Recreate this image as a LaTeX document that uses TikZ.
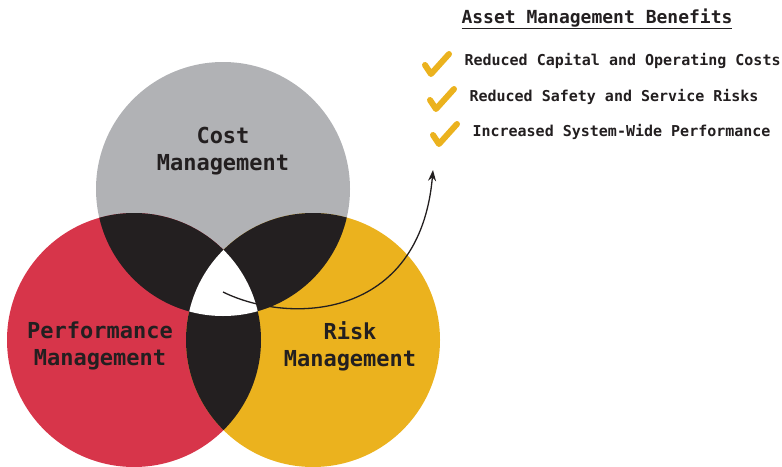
\documentclass[tikz,border=0pt]{standalone}
\usepackage{fontspec}
\setmonofont{DejaVu Sans Mono}
\usetikzlibrary{arrows.meta}
\definecolor{cgray}{HTML}{B1B2B5}
\definecolor{cred}{HTML}{D7354A}
\definecolor{cyel}{HTML}{EBB21E}
\definecolor{cdark}{HTML}{231F20}
\begin{document}
\begin{tikzpicture}[x=1pt,y=-1pt,
  ring/.style={circle,minimum size=254pt,inner sep=0pt},
  clabel/.style={font=\ttfamily\bfseries\fontsize{22}{27}\selectfont,text=cdark,align=center},
  blabel/.style={font=\ttfamily\bfseries\fontsize{15}{17}\selectfont,text=cdark,anchor=west},
  tick/.style={draw=cyel,line width=6pt,line cap=round,line join=round}]
\useasboundingbox (0,0) rectangle (782,466);
% circles
\node[ring,fill=cgray] (cost) at (223,189) {};
\node[ring,fill=cred] (perf) at (134,340) {};
\node[ring,fill=cyel] (risk) at (313,340) {};
% pairwise intersections
\begin{scope}
  \clip (223,189) circle (127);
  \fill[cdark] (134,340) circle (127);
  \fill[cdark] (313,340) circle (127);
\end{scope}
\begin{scope}
  \clip (134,340) circle (127);
  \fill[cdark] (313,340) circle (127);
\end{scope}
\begin{scope}
  \clip (223,189) circle (127);
  \clip (134,340) circle (127);
  \fill[white] (313,340) circle (127);
\end{scope}
% labels
\node[clabel] (costl) at (223,151) {Cost\\Management};
\node[clabel] (perfl) at (100,346) {Performance\\Management};
\node[clabel] (riskl) at (350,346) {Risk\\Management};
% arrow
\coordinate (as) at (223,292);
\coordinate (ae) at (433,170);
\draw[cdark,line width=1.3pt,-{Stealth[length=11pt,width=8pt]}] (as) .. controls (290,325) and (420,320) .. (ae);
% benefits
\node[font=\ttfamily\bfseries\fontsize{18}{20}\selectfont,text=cdark] (title) at (597,19) {\underline{Asset Management Benefits}};
\draw[tick] (425,65) -- (431,74) -- (449,54);
\draw[tick] (430,100) -- (436,109) -- (454,89);
\draw[tick] (433,135) -- (439,144) -- (457,124);
\node[blabel] (b1) at (461,61) {Reduced Capital and Operating Costs};
\node[blabel] (b2) at (466,97) {Reduced Safety and Service Risks};
\node[blabel] (b3) at (469,132) {Increased System-Wide Performance};
\end{tikzpicture}
\end{document}
